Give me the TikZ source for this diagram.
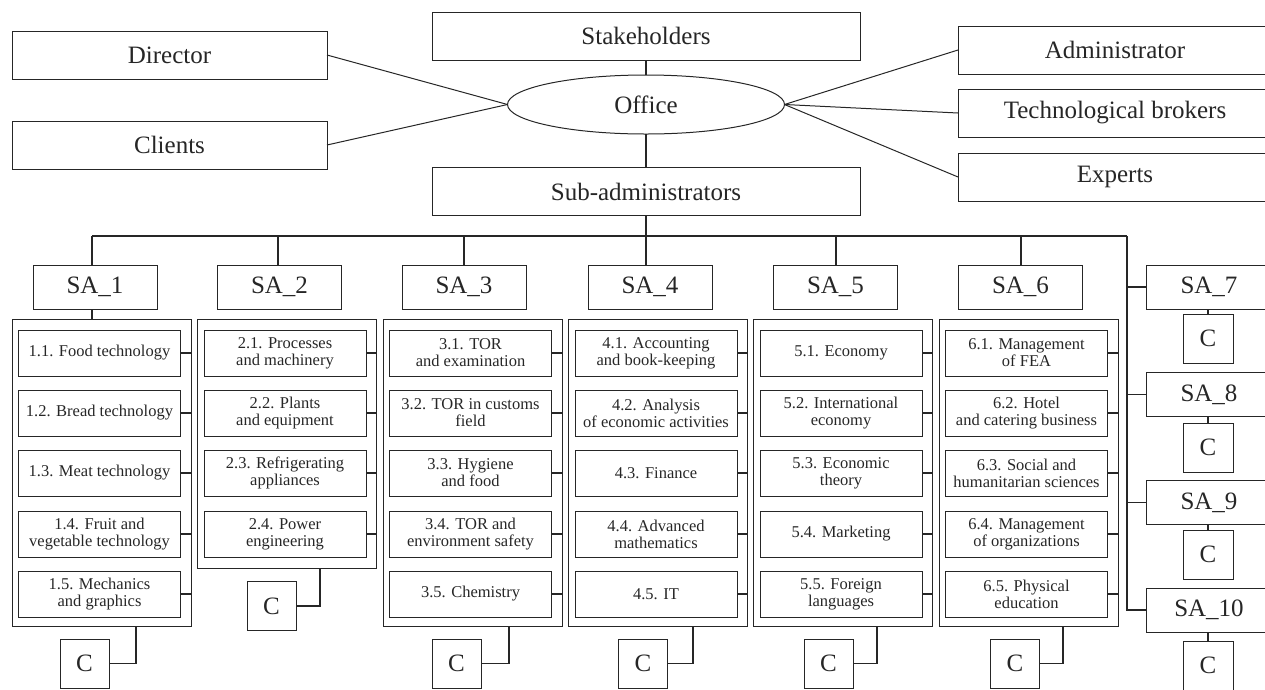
\documentclass[tikz,border=0pt]{standalone}
\usepackage{fontspec}
\setmainfont{Liberation Serif}
\usetikzlibrary{shapes.geometric,calc}
\definecolor{ink}{HTML}{262626}
\newcommand\mycell[5]{%
  \node[cellbox] (#1) at (#3,#4) {#5};
  \draw[conn] (#1.east) -- (#1.east -| #2.east);}
\begin{document}
\begin{tikzpicture}[x=1pt,y=-1pt,
  every node/.style={inner sep=0pt, outer sep=0pt, text=ink},
  topbox/.style={draw=ink, line width=1pt, minimum height=48pt, font=\fontsize{25}{26}\selectfont},
  sabox/.style={draw=ink, line width=1pt, minimum width=124pt, minimum height=44pt, font=\fontsize{25}{26}\selectfont},
  rsabox/.style={sabox, minimum width=126pt},
  framebox/.style={draw=ink, line width=1pt, minimum width=179pt, anchor=north west},
  cellbox/.style={draw=ink, line width=1pt, minimum width=162pt, minimum height=46pt, align=center, font=\fontsize{16.5}{17}\selectfont},
  cbox/.style={draw=ink, line width=1pt, minimum width=49pt, minimum height=49pt, font=\fontsize{25}{26}\selectfont},
  conn/.style={draw=ink, line width=1.4pt},
  thin/.style={draw=ink, line width=1pt}]
\useasboundingbox (0,0) rectangle (1265,689);
\clip (0,0) rectangle (1265,689);

% ---- top part
\node[topbox, minimum width=428pt] (stake) at (646,36) {Stakeholders};
\node[draw=ink, line width=1pt, ellipse, minimum width=277pt, minimum height=59pt, font=\fontsize{25}{26}\selectfont] (office) at (646,104.5) {Office};
\node[topbox, minimum width=428pt] (sub) at (646,191.5) {Sub-administrators};
\node[topbox, minimum width=315pt] (director) at (169.5,55) {Director};
\node[topbox, minimum width=315pt] (clients) at (169.5,145) {Clients};
\node[topbox, minimum width=314pt] (admin) at (1115,50) {Administrator};
\node[topbox, minimum width=314pt] (broker) at (1115,113) {Technological brokers};
\node[topbox, minimum width=314pt] (experts) at (1115,177) {Experts};

\draw[conn] (stake) -- (office);
\draw[conn] (office) -- (sub);
\draw[thin] (director.east) -- (office.west);
\draw[thin] (clients.east) -- (office.west);
\draw[thin] (office.east) -- (admin.west);
\draw[thin] (office.east) -- (broker.west);
\draw[thin] (office.east) -- (experts.west);

% ---- SA boxes
\node[sabox] (SA1) at (95,287) {SA\_1};
\node[sabox] (SA2) at (279.5,287) {SA\_2};
\node[sabox] (SA3) at (464,287) {SA\_3};
\node[sabox] (SA4) at (650,287) {SA\_4};
\node[sabox] (SA5) at (835.5,287) {SA\_5};
\node[sabox] (SA6) at (1020.5,287) {SA\_6};
\node[rsabox] (SA7) at (1209,287) {SA\_7};
\node[rsabox] (SA8) at (1209,394.5) {SA\_8};
\node[rsabox] (SA9) at (1209,502.5) {SA\_9};
\node[rsabox] (SA10) at (1209,610) {SA\_10};

% bus
\coordinate (b1) at (92,236);
\coordinate (b2) at (278,236);
\coordinate (b3) at (464,236);
\coordinate (b4) at (646,236);
\coordinate (b5) at (836,236);
\coordinate (b6) at (1021,236);
\coordinate (rt) at (1127,236);
\draw[conn] (b1) -- (rt);
\draw[conn] (sub.south) -- (b4);
\foreach \i in {1,...,6} \draw[conn] (b\i) -- (b\i |- SA\i.north);
\draw[conn] (rt) |- (SA10.west);
\foreach \i in {7,8,9} \draw[conn] (rt |- SA\i.west) -- (SA\i.west);

% ---- frames
\node[framebox, minimum height=307pt] (F1) at (12,319) {};
\node[framebox, minimum height=249pt] (F2) at (197.5,319) {};
\node[framebox, minimum height=307pt] (F3) at (383,319) {};
\node[framebox, minimum height=307pt] (F4) at (568.5,319) {};
\node[framebox, minimum height=307pt] (F5) at (753.5,319) {};
\node[framebox, minimum height=307pt] (F6) at (939,319) {};
\draw[conn] (b1 |- SA1.south) -- (b1 |- F1.north);

% column 1
\mycell{c11}{F1}{99.5}{353}{1.1. Food technology}
\mycell{c12}{F1}{99.5}{413}{1.2. Bread technology}
\mycell{c13}{F1}{99.5}{473}{1.3. Meat technology}
\mycell{c14}{F1}{99.5}{534}{1.4. Fruit and\\vegetable technology}
\mycell{c15}{F1}{99.5}{594}{1.5. Mechanics\\and graphics}
% column 2
\mycell{c21}{F2}{285}{353}{2.1. Processes\\and machinery}
\mycell{c22}{F2}{285}{413}{2.2. Plants\\and equipment}
\mycell{c23}{F2}{285}{473}{2.3. Refrigerating\\appliances}
\mycell{c24}{F2}{285}{534}{2.4. Power\\engineering}
% column 3
\mycell{c31}{F3}{470.5}{353}{3.1. TOR\\and examination}
\mycell{c32}{F3}{470.5}{413}{3.2. TOR in customs\\field}
\mycell{c33}{F3}{470.5}{473}{3.3. Hygiene\\and food}
\mycell{c34}{F3}{470.5}{534}{3.4. TOR and\\environment safety}
\mycell{c35}{F3}{470.5}{594}{3.5. Chemistry}
% column 4
\mycell{c41}{F4}{656}{353}{4.1. Accounting\\and book-keeping}
\mycell{c42}{F4}{656}{413}{4.2. Analysis\\of economic activities}
\mycell{c43}{F4}{656}{473}{4.3. Finance}
\mycell{c44}{F4}{656}{534}{4.4. Advanced\\mathematics}
\mycell{c45}{F4}{656}{594}{4.5. IT}
% column 5
\mycell{c51}{F5}{841}{353}{5.1. Economy}
\mycell{c52}{F5}{841}{413}{5.2. International\\economy}
\mycell{c53}{F5}{841}{473}{5.3. Economic\\theory}
\mycell{c54}{F5}{841}{534}{5.4. Marketing}
\mycell{c55}{F5}{841}{594}{5.5. Foreign\\languages}
% column 6
\mycell{c61}{F6}{1026.5}{353}{6.1. Management\\of FEA}
\mycell{c62}{F6}{1026.5}{413}{6.2. Hotel\\and catering business}
\mycell{c63}{F6}{1026.5}{473}{6.3. Social and\\humanitarian sciences}
\mycell{c64}{F6}{1026.5}{534}{6.4. Management\\of organizations}
\mycell{c65}{F6}{1026.5}{594}{6.5. Physical\\education}

% ---- C boxes
\node[cbox] (C1) at (84.5,663.5) {C};
\node[cbox] (C2) at (271.5,606) {C};
\node[cbox] (C3) at (456.5,663.5) {C};
\node[cbox] (C4) at (643,663.5) {C};
\node[cbox] (C5) at (828.5,663.5) {C};
\node[cbox] (C6) at (1015,663.5) {C};
\node[cbox, minimum width=50pt] (C7) at (1208,338.5) {C};
\node[cbox, minimum width=50pt] (C8) at (1208,447.5) {C};
\node[cbox, minimum width=50pt] (C9) at (1208,554.5) {C};
\node[cbox, minimum width=50pt] (C10) at (1208,665.5) {C};

\draw[conn] ($(F1.south west)+(124,0)$) |- (C1.east);
\draw[conn] ($(F2.south west)+(122.5,0)$) |- (C2.east);
\draw[conn] ($(F3.south west)+(126,0)$) |- (C3.east);
\draw[conn] ($(F4.south west)+(124.5,0)$) |- (C4.east);
\draw[conn] ($(F5.south west)+(123.5,0)$) |- (C5.east);
\draw[conn] ($(F6.south west)+(124,0)$) |- (C6.east);
\foreach \i in {7,8,9,10} \draw[conn] (C\i.north |- SA\i.south) -- (C\i.north);
\end{tikzpicture}
\end{document}
